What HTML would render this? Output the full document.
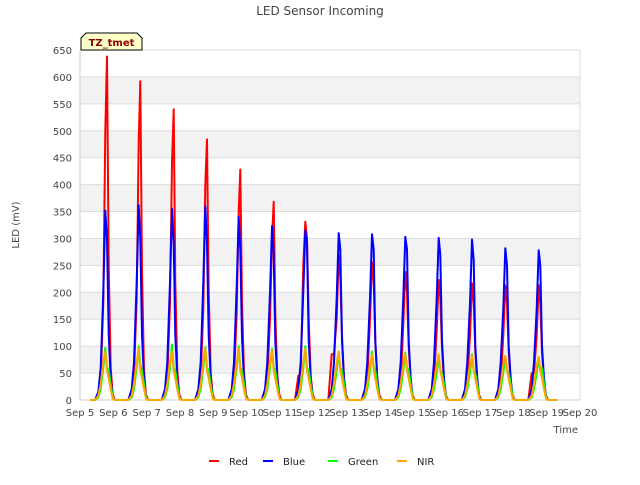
<!DOCTYPE html>
<html><head><meta charset="utf-8"><style>
body{margin:0;background:#fff;}
svg text{font-family:"DejaVu Sans","Liberation Sans",sans-serif;}
</style></head><body>
<svg id="chart" width="640" height="480" xmlns="http://www.w3.org/2000/svg">
<rect width="640" height="480" fill="#fff"/>
<g id="grid"></g>
<g id="axes"></g>
<g id="series"></g>
<text x="320" y="15" text-anchor="middle" font-size="12" fill="#444">LED Sensor Incoming</text>
<text transform="translate(19,225) rotate(-90)" text-anchor="middle" font-size="10" fill="#444">LED (mV)</text>
<text x="578" y="433" text-anchor="end" font-size="10" fill="#444">Time</text>
<g>
<path d="M81,50 L81,38 L86,33 L137,33 L142,38 L142,50 Z" fill="#ffffc8" stroke="#000" stroke-width="1"/>
<text x="111.5" y="46" text-anchor="middle" font-size="10" font-weight="bold" fill="#8b0000">TZ_tmet</text>
</g>
<g id="legend"></g>
</svg>
<script>
const yTicks=[0,50,100,150,200,250,300,350,400,450,500,550,600,650];
const xTickLabels=["Sep 5","Sep 6","Sep 7","Sep 8","Sep 9","Sep 10","Sep 11","Sep 12","Sep 13","Sep 14","Sep 15","Sep 16","Sep 17","Sep 18","Sep 19","Sep 20"];
const dayOffsets=[0.45,0.55,0.62,0.7,0.76,0.81,0.86,0.92,0.98,1.05];
const redData=[
[0,10,40,180,500,638,250,60,10,0],[0,12,45,190,480,592,240,55,10,0],[0,10,40,180,440,540,220,55,10,0],
[0,10,40,170,400,484,200,50,10,0],[0,10,40,160,350,428,180,50,10,0],[0,10,40,150,300,368,160,45,10,0],
[0,45,48,250,331,300,150,45,10,0],[0,85,85,150,269,230,120,40,10,0],[0,20,40,150,256,220,110,40,10,0],
[0,15,35,140,238,200,100,35,8,0],[0,15,35,130,223,190,95,35,8,0],[0,15,35,120,217,180,90,30,8,0],
[0,15,35,120,213,180,90,30,8,0],[0,50,50,120,213,180,90,30,8,0]];
const blueData=[
[0,15,60,200,352,300,120,40,5,0],[0,20,70,220,362,300,120,40,5,0],[0,20,70,220,355,290,120,40,5,0],
[0,20,70,220,360,290,120,40,5,0],[0,20,70,210,340,280,115,40,5,0],[0,20,70,200,323,270,110,40,5,0],
[0,20,70,200,315,290,110,40,5,0],[0,20,70,190,310,280,110,40,5,0],[0,20,70,190,308,280,110,40,5,0],
[0,20,70,190,303,280,110,40,5,0],[0,20,70,190,301,270,110,40,5,0],[0,20,70,180,298,260,100,40,5,0],
[0,20,70,170,282,250,100,40,5,0],[0,20,70,170,278,250,100,40,5,0]];
const greenData=[
[0,5,20,60,97,60,55,30,5,0],[0,5,20,60,100,65,55,30,5,0],[0,5,20,60,103,60,55,30,5,0],
[0,5,20,60,98,60,55,30,5,0],[0,5,20,60,100,60,55,30,5,0],[0,5,20,60,95,60,55,30,5,0],
[0,5,20,60,100,60,55,30,5,0],[0,5,20,55,88,60,55,30,5,0],[0,5,20,55,90,60,55,30,5,0],
[0,5,20,55,88,60,55,30,5,0],[0,5,20,50,80,55,50,30,5,0],[0,5,20,50,85,55,50,30,5,0],
[0,5,20,50,80,55,50,30,5,0],[0,5,20,50,78,55,60,30,5,0]];
const nirData=[
[0,8,30,70,90,55,40,20,3,0],[0,8,30,70,95,55,40,20,3,0],[0,8,30,70,90,55,40,20,3,0],
[0,8,30,70,95,55,40,20,3,0],[0,8,30,70,95,55,40,20,3,0],[0,8,30,70,92,55,40,20,3,0],
[0,8,30,70,95,55,40,20,3,0],[0,8,30,70,90,55,40,20,3,0],[0,8,30,65,85,55,40,20,3,0],
[0,8,30,65,85,55,40,20,3,0],[0,8,30,65,85,55,40,20,3,0],[0,8,30,65,82,55,40,20,3,0],
[0,8,30,65,82,55,40,20,3,0],[0,8,30,65,80,55,40,20,3,0]];
const seriesNames=["Red","Blue","Green","NIR"];
const seriesColors=["#ff0000","#0000ff","#00ff00","#ffa500"];

const X0=80,X1=580,Y0=400,Y1=50;
const xs=d=>X0+d*(X1-X0)/15;
const ys=v=>Y0-v*(Y0-Y1)/650;
const NS="http://www.w3.org/2000/svg";
function mk(tag,attrs,parent){const e=document.createElementNS(NS,tag);for(const k in attrs)e.setAttribute(k,attrs[k]);parent.appendChild(e);return e;}
const grid=document.getElementById('grid'),axes=document.getElementById('axes'),ser=document.getElementById('series'),leg=document.getElementById('legend');
for(let i=0;i<yTicks.length-1;i++){
 if(i%2==1){const r=mk('rect',{x:X0,y:ys(yTicks[i+1]),width:X1-X0,height:ys(yTicks[i])-ys(yTicks[i+1]),fill:'#f2f2f2'},grid);
 }
}
yTicks.forEach(v=>{
 const l=mk('line',{x1:X0,x2:X1,y1:ys(v),y2:ys(v),stroke:'#dcdcdc','stroke-width':1},grid);
 
 const t=mk('text',{x:X0-8,y:ys(v)+4,'text-anchor':'end','font-size':10,fill:'#444'},axes);t.textContent=v;
 
});
mk('line',{x1:X1,x2:X1,y1:Y1,y2:Y0,stroke:'#dcdcdc'},grid);
const ax=mk('line',{x1:X0,x2:X0,y1:Y1,y2:Y0,stroke:'#ccc'},axes);

const bx=mk('line',{x1:X0,x2:X1,y1:Y0,y2:Y0,stroke:'#ccc'},axes);

xTickLabels.forEach((s,i)=>{
 const t=mk('text',{x:xs(i),y:Y0+16,'text-anchor':'middle','font-size':10,fill:'#444'},axes);t.textContent=s;
 
});
[redData,blueData,greenData,nirData].forEach((data,si)=>{
 const pts=[[xs(0.3),ys(0)]];
 data.forEach((day,d)=>day.forEach((v,j)=>pts.push([xs(d+dayOffsets[j]),ys(v)])));
 pts.push([xs(14.3),ys(0)]);
 const p=mk('polyline',{points:pts.map(p=>p[0].toFixed(1)+','+p[1].toFixed(1)).join(' '),fill:'none',stroke:seriesColors[si],'stroke-width':2,'stroke-linejoin':'round'},ser);
 
 
});
const legX=[205,259,324,393];
seriesNames.forEach((n,i)=>{
 const g=mk('g',{},leg);
 
 
 mk('line',{x1:legX[i]+4,x2:legX[i]+14,y1:461,y2:461,stroke:seriesColors[i],'stroke-width':2},g);
 const t=mk('text',{x:legX[i]+24,y:465,'font-size':10,fill:'#222'},g);t.textContent=n;
});
</script>
</body></html>
